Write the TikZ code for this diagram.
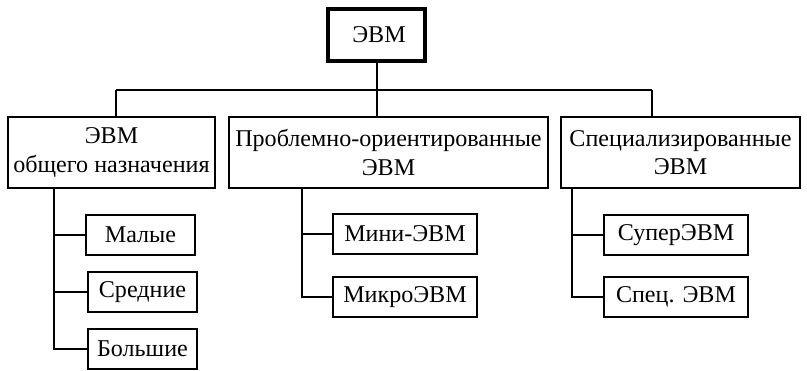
\documentclass[tikz,border=0pt]{standalone}
\usepackage{fontspec}
\setmainfont{Liberation Serif}
\usetikzlibrary{calc}

\begin{document}
\begin{tikzpicture}[x=0.2mm,y=-0.2mm,
  box/.style={draw,line width=1.4pt,inner sep=0pt,align=center,
    font=\fontsize{13.7}{16}\selectfont},
  leaf/.style={box,minimum width=28.8mm,minimum height=8mm},
  link/.style={line width=1.1pt}]
\useasboundingbox (0,0) rectangle (807,370);

% top
\node[box,line width=2pt,minimum width=19.4mm,minimum height=10.4mm] (evm) at (376.5,35) {\hspace{1mm}ЭВМ};

% second level
\node[box,minimum width=41.4mm,minimum height=14.2mm] (gen) at (111.5,152.5) {ЭВМ\\общего назначения};
\node[box,minimum width=63.8mm,minimum height=14.2mm] (prob) at (388.5,152.5) {Проблемно-ориентированные\\ЭВМ};
\node[box,minimum width=47.8mm,minimum height=14.2mm] (spec) at (680.5,152.5) {Специализированные\\ЭВМ};

% third level
\node[leaf,minimum width=21.8mm] (small) at (140.5,235) {Малые};
\node[leaf,minimum width=21.8mm] (medium) at (142.5,292) {Средние};
\node[leaf,minimum width=21.8mm] (large) at (142.5,349) {Большие};

\node[leaf] (mini) at (405,234) {Мини-ЭВМ};
\node[leaf] (micro) at (405,297) {МикроЭВМ};

\node[leaf] (super) at (676,235) {СуперЭВМ};
\node[leaf] (special) at (676,297) {Спец. ЭВМ};

% bus under the top box
\coordinate (b1) at (116,90);
\coordinate (b2) at (377,90);
\coordinate (b3) at (652,90);
\draw[link] (b1) -- (b3);
\draw[link] (evm.south -| b2) -- (b2 |- prob.north);
\draw[link] (b1) -- (b1 |- gen.north);
\draw[link] (b3) -- (b3 |- spec.north);

% trunks
\coordinate (t1) at (54,0);
\coordinate (t2) at (302,0);
\coordinate (t3) at (572,0);
\foreach \n in {small,medium,large}
  \draw[link] (gen.south -| t1) |- (\n.west);
\foreach \n in {mini,micro}
  \draw[link] (prob.south -| t2) |- (\n.west);
\foreach \n in {super,special}
  \draw[link] (spec.south -| t3) |- (\n.west);

\end{tikzpicture}
\end{document}
